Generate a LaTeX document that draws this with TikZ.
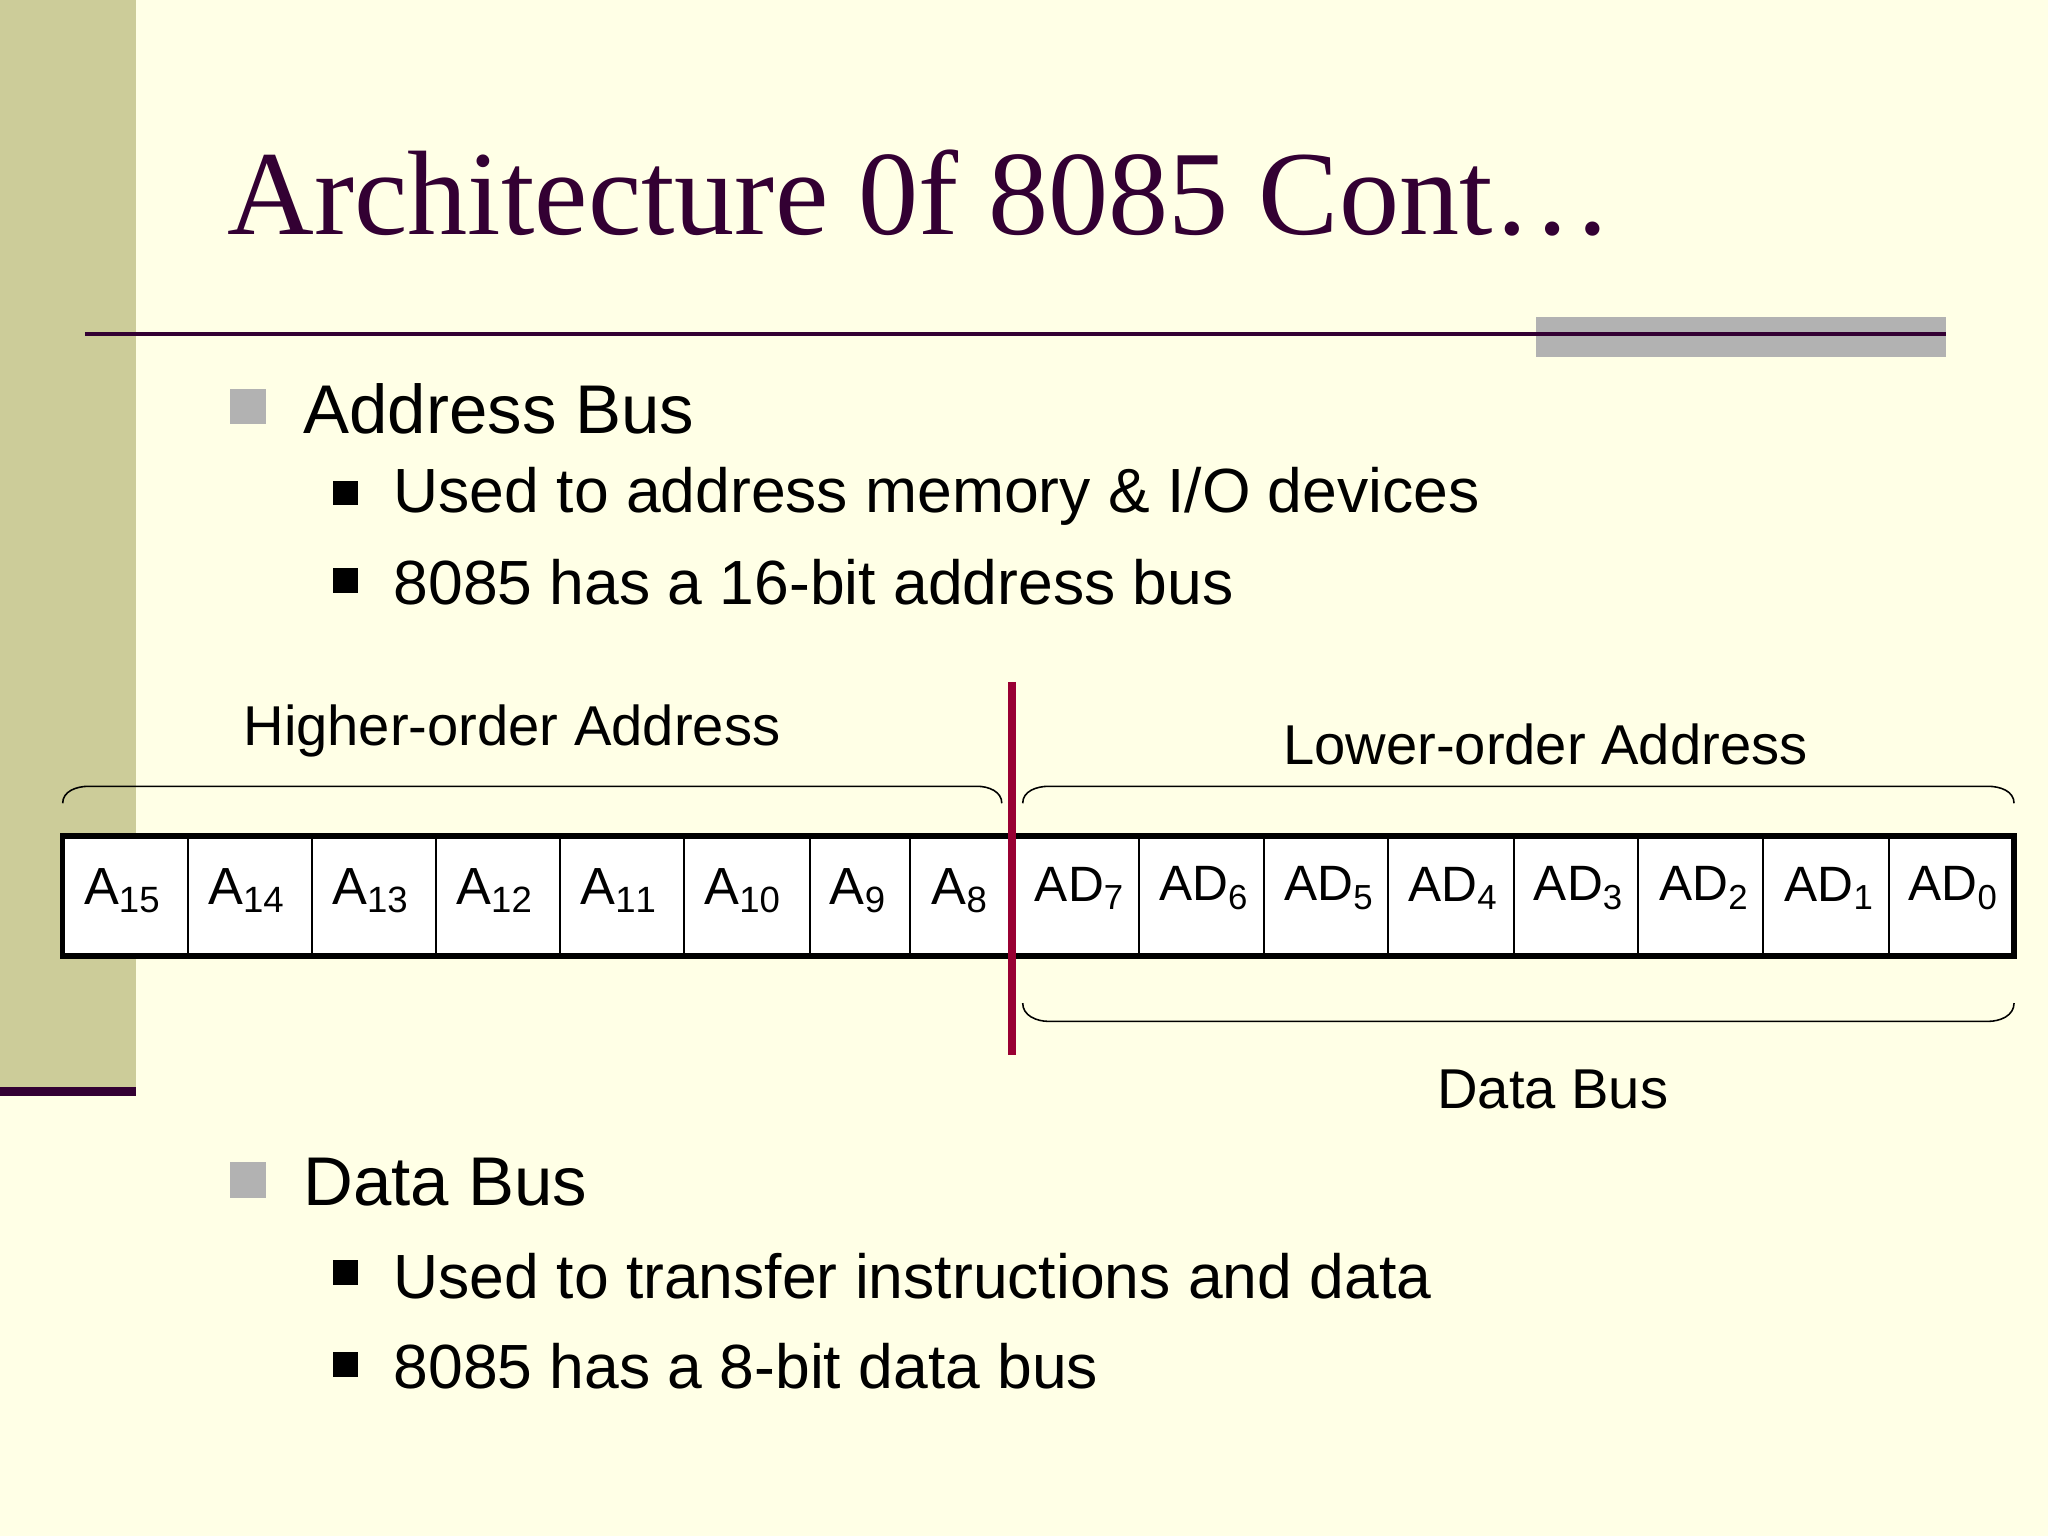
\documentclass[tikz,border=0pt]{standalone}
\usepackage{fontspec}
\setmainfont{Liberation Sans}
\newfontfamily\titlefont{Liberation Serif}
\definecolor{bg}{HTML}{FFFFE6}
\definecolor{olive}{HTML}{CCCC99}
\definecolor{plum}{HTML}{330033}
\definecolor{crim}{HTML}{990033}
\definecolor{gbar}{HTML}{B2B2B2}
\begin{document}
\begin{tikzpicture}[x=0.5pt,y=-0.5pt,
  cell/.style={anchor=west,font=\fontsize{20}{22}\selectfont,inner sep=0pt},
  brace/.style={draw=black,line width=0.6pt},
  lvl1/.style={anchor=west,font=\fontsize{26.4}{30}\selectfont,inner sep=0pt},
  lvl2/.style={anchor=west,font=\fontsize{23.9}{26}\selectfont,inner sep=0pt},
  lab/.style={font=\fontsize{21.5}{24}\selectfont,inner sep=0pt}]
\useasboundingbox (0,0) rectangle (1568,1176);
\fill[bg] (0,0) rectangle (1568,1176);
\fill[olive] (0,0) rectangle (104,834);
\fill[plum] (0,832) rectangle (104,839);
\node[anchor=west,text=plum,font=\titlefont\fontsize{46}{50}\selectfont,inner sep=0pt] (title) at (174,148) {Architecture 0f 8085 Cont\ldots};
\fill[gbar] (1176,243) rectangle (1490,273);
\draw[plum,line width=1.5pt] (65,256) -- (1490,256);
% bullets
\fill[gbar] (176,298) rectangle (204,325);
\node[lvl1] (ab) at (232,313) {Address Bus};
\fill[black] (255,368) rectangle (274,387);
\node[lvl2] (ab1) at (301,380) {Used to address memory \& I/O devices};
\fill[black] (255,435) rectangle (274,454);
\node[lvl2] (ab2) at (301,446) {8085 has a 16-bit address bus};
\fill[gbar] (176,890) rectangle (204,917);
\node[lvl1] (db) at (232,905) {Data Bus};
\fill[black] (255,965) rectangle (274,984);
\node[lvl2] (db1) at (301,977) {Used to transfer instructions and data};
\fill[black] (255,1035) rectangle (274,1054);
\node[lvl2] (db2) at (301,1046) {8085 has a 8-bit data bus};
% register cells
\fill[white] (48,640) rectangle (1542,732);
\foreach \x in {144,239,334,429,524,620,697,872,968,1063,1159,1254,1350,1446}
  \draw[line width=0.8pt] (\x,640) -- (\x,732);
\draw[line width=2pt] (48,640) rectangle (1542,732);
\foreach \x/\t in {64/15,159/14,254/13,349/12,444/11,539/10}
  \node[cell] at (\x,682) {A$_{\mathrm{\t}}$};
\node[cell] at (635,682) {A$_{\mathrm{9}}$};
\node[cell] at (713,682) {A$_{\mathrm{8}}$};
\foreach \x/\t in {792/7,887/6,983/5,1078/4,1174/3,1270/2,1366/1,1461/0}
  \node[cell,font=\fontsize{19}{22}\selectfont] at (\x,680) {AD$_{\mathrm{\t}}$};
\draw[crim,line width=3pt] (775,522) -- (775,808);
% braces
\draw[brace] (48,615) to[out=90,in=180] (68,602) -- (748,602) to[out=0,in=90] (767,615);
\draw[brace] (783,615) to[out=90,in=180] (803,602) -- (1522,602) to[out=0,in=90] (1542,615);
\draw[brace] (783,768) to[out=-90,in=180] (803,782) -- (1522,782) to[out=0,in=-90] (1542,768);
\node[lab,anchor=west] (hoa) at (186,560) {Higher-order Address};
\node[lab,anchor=west] (loa) at (982,570) {Lower-order Address};
\node[lab,anchor=west] (dbl) at (1100,834) {Data Bus};
\end{tikzpicture}
\end{document}
